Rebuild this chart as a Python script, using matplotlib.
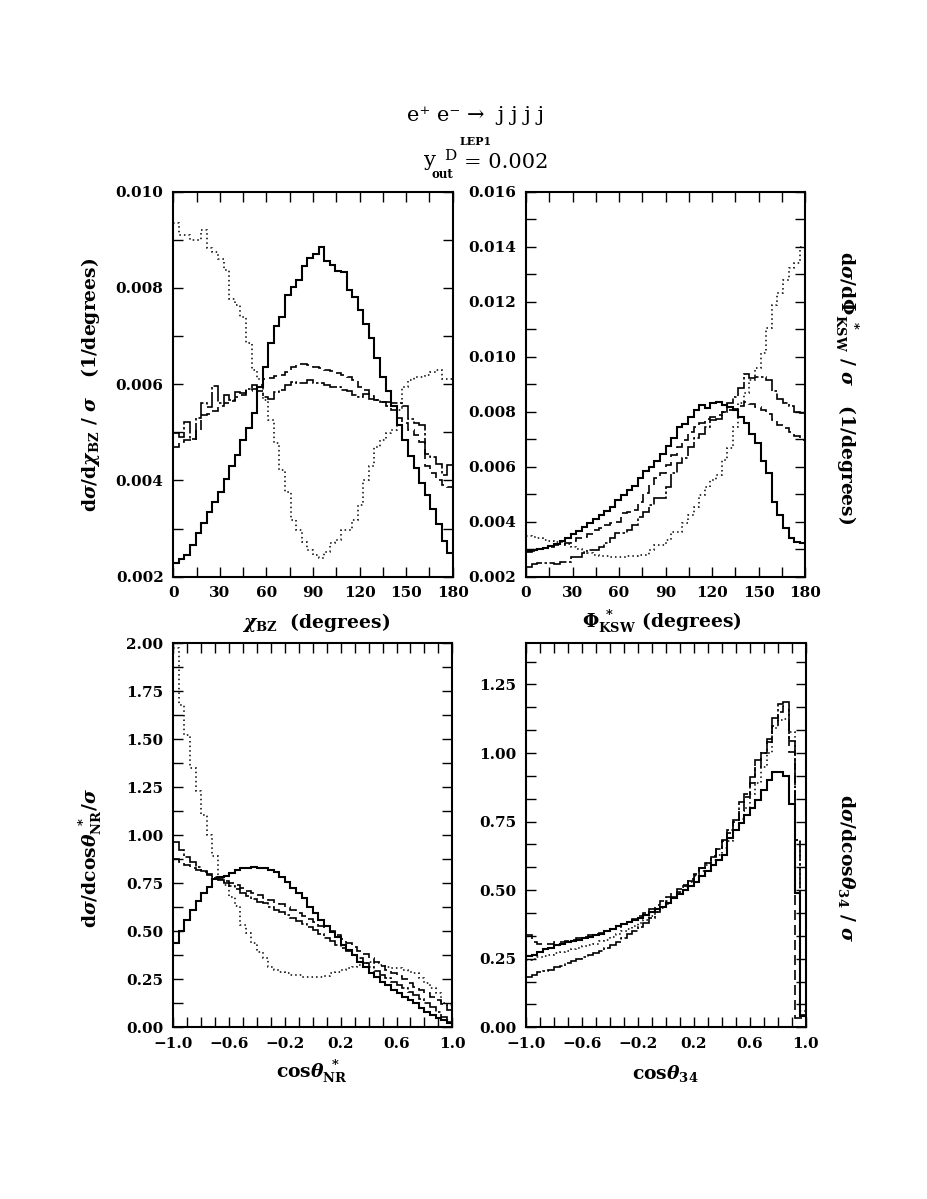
import numpy as np
import matplotlib
matplotlib.use("Agg")
import matplotlib.pyplot as plt
from matplotlib.ticker import MultipleLocator, FixedLocator, FuncFormatter

plt.rcParams['font.family'] = ['DejaVu Serif']
plt.rcParams['font.weight'] = 'bold'
plt.rcParams['mathtext.fontset'] = 'custom'
plt.rcParams['mathtext.rm'] = 'DejaVu Serif:bold'
plt.rcParams['mathtext.bf'] = 'DejaVu Serif:bold'
plt.rcParams['mathtext.it'] = 'DejaVu Serif:italic:bold'

# ---------------- data (histogram bin contents) ----------------
# Panel 1: chi_BZ, 50 bins over 0..180 degrees, values in units of 1e-3 / degree
chi_range = (0.0, 180.0)
chi_solid = [2.28, 2.36, 2.46, 2.66, 2.90, 3.11, 3.34, 3.56, 3.75, 4.02,
             4.30, 4.53, 4.84, 5.10, 5.40, 5.95, 6.35, 6.85, 7.20, 7.40,
             7.85, 8.02, 8.16, 8.45, 8.62, 8.70, 8.85, 8.55, 8.48, 8.36,
             8.34, 7.96, 7.82, 7.55, 7.25, 6.95, 6.55, 6.15, 5.85, 5.55,
             5.15, 4.85, 4.50, 4.25, 3.95, 3.70, 3.40, 3.10, 2.75, 2.50]
chi_dashed = [4.70, 4.80, 4.85, 4.85, 5.05, 5.36, 5.38, 5.45, 5.55, 5.60,
              5.65, 5.74, 5.78, 5.85, 5.90, 5.98, 6.10, 6.13, 6.16, 6.20,
              6.26, 6.35, 6.41, 6.42, 6.40, 6.36, 6.33, 6.30, 6.28, 6.24,
              6.20, 6.15, 6.09, 5.95, 5.88, 5.75, 5.67, 5.62, 5.55, 5.46,
              5.30, 5.19, 5.05, 4.95, 4.80, 4.30, 4.15, 4.00, 3.90, 3.87]
chi_dotted = [9.34, 9.10, 9.10, 9.00, 9.00, 9.20, 8.82, 8.75, 8.60, 8.37,
              7.78, 7.64, 7.40, 6.85, 6.30, 6.10, 5.68, 5.26, 4.77, 4.22,
              3.77, 3.18, 2.97, 2.73, 2.55, 2.45, 2.38, 2.52, 2.69, 2.76,
              2.97, 2.97, 3.18, 3.50, 4.00, 4.29, 4.70, 4.84, 4.98, 5.05,
              5.46, 5.95, 6.09, 6.15, 6.15, 6.20, 6.26, 6.30, 6.10, 6.10]
chi_dashdot = [4.98, 4.91, 5.22, 4.87, 5.29, 5.61, 5.53, 5.97, 5.60, 5.77,
               5.67, 5.84, 5.81, 5.91, 5.98, 5.85, 5.74, 5.70, 5.84, 5.88,
               5.98, 6.05, 6.02, 6.02, 6.09, 6.02, 6.02, 5.98, 5.95, 5.95,
               5.88, 5.85, 5.77, 5.74, 5.80, 5.70, 5.67, 5.64, 5.64, 5.60,
               5.60, 5.55, 5.27, 5.19, 5.15, 4.56, 4.49, 4.35, 4.11, 4.32]

# Panel 2: Phi*_KSW, 50 bins over 0..180 degrees, units of 1e-3 / degree
phi_range = (0.0, 180.0)
phi_solid = [2.95, 2.97, 3.00, 3.05, 3.10, 3.18, 3.30, 3.42, 3.55, 3.68,
             3.80, 3.95, 4.10, 4.25, 4.40, 4.55, 4.80, 4.97, 5.15, 5.30,
             5.60, 5.85, 6.00, 6.20, 6.45, 6.75, 7.03, 7.45, 7.55, 7.80,
             8.06, 8.24, 8.12, 8.30, 8.36, 8.24, 8.18, 8.06, 7.82, 7.60,
             7.20, 6.85, 6.20, 5.76, 4.73, 4.24, 3.76, 3.40, 3.27, 3.22]
phi_dashed = [2.90, 2.92, 3.00, 3.03, 3.08, 3.15, 3.15, 3.22, 3.30, 3.39,
              3.45, 3.55, 3.70, 3.78, 3.88, 3.95, 4.00, 4.30, 4.35, 4.42,
              4.73, 5.03, 5.35, 5.60, 5.76, 6.06, 6.42, 6.73, 6.97, 7.27,
              7.45, 7.60, 7.75, 7.82, 7.88, 8.00, 8.06, 8.10, 8.20, 8.36,
              8.28, 8.18, 8.06, 7.90, 7.70, 7.52, 7.40, 7.25, 7.10, 6.97]
phi_dotted = [3.48, 3.45, 3.39, 3.35, 3.30, 3.27, 3.25, 3.20, 3.09, 3.00,
              2.90, 2.88, 2.80, 2.75, 2.75, 2.73, 2.73, 2.73, 2.75, 2.75,
              2.78, 2.80, 2.97, 3.15, 3.15, 3.33, 3.64, 3.64, 3.94, 4.24,
              4.55, 4.97, 5.27, 5.50, 5.70, 6.24, 6.67, 7.45, 8.30, 8.67,
              9.15, 9.58, 10.12, 11.03, 11.88, 12.30, 12.79, 13.21, 13.40, 14.00]
phi_dashdot = [2.36, 2.48, 2.50, 2.50, 2.50, 2.45, 2.55, 2.55, 2.73, 2.73,
               2.85, 2.97, 2.97, 3.09, 3.21, 3.39, 3.58, 3.58, 3.70, 3.88,
               4.18, 4.36, 4.60, 4.85, 4.85, 5.27, 5.76, 6.12, 6.30, 6.73,
               7.03, 7.20, 7.45, 7.70, 7.75, 8.00, 8.30, 8.55, 8.85, 9.37,
               9.21, 9.27, 9.27, 9.15, 8.75, 8.45, 8.30, 8.20, 8.00, 7.94]

# Panel 3: cos(theta*_NR), 50 bins over -1..1
nr_range = (-1.0, 1.0)
nr_solid = [0.44, 0.50, 0.56, 0.61, 0.66, 0.70, 0.73, 0.77, 0.785, 0.79,
            0.806, 0.82, 0.828, 0.832, 0.837, 0.832, 0.828, 0.82, 0.807, 0.785,
            0.755, 0.724, 0.70, 0.672, 0.628, 0.594, 0.559, 0.528, 0.498, 0.472,
            0.43, 0.405, 0.377, 0.342, 0.316, 0.285, 0.264, 0.238, 0.22, 0.194,
            0.177, 0.16, 0.142, 0.125, 0.099, 0.082, 0.064, 0.047, 0.038, 0.02]
nr_dashed = [0.875, 0.86, 0.845, 0.83, 0.82, 0.81, 0.795, 0.78, 0.77, 0.76,
             0.75, 0.74, 0.725, 0.71, 0.70, 0.69, 0.675, 0.665, 0.65, 0.64,
             0.625, 0.61, 0.595, 0.58, 0.565, 0.55, 0.53, 0.515, 0.50, 0.48,
             0.46, 0.44, 0.42, 0.40, 0.38, 0.36, 0.34, 0.32, 0.30, 0.285,
             0.265, 0.25, 0.23, 0.21, 0.195, 0.18, 0.16, 0.14, 0.12, 0.09]
nr_dotted = [1.974, 1.68, 1.52, 1.35, 1.23, 1.106, 1.0, 0.89, 0.78, 0.74,
             0.68, 0.63, 0.533, 0.49, 0.4375, 0.394, 0.36, 0.316, 0.299, 0.29,
             0.281, 0.275, 0.27, 0.264, 0.264, 0.264, 0.262, 0.267, 0.281, 0.29,
             0.299, 0.307, 0.316, 0.325, 0.333, 0.342, 0.335, 0.325, 0.316, 0.31,
             0.307, 0.299, 0.29, 0.281, 0.255, 0.229, 0.203, 0.177, 0.125, 0.116]
nr_dashdot = [0.967, 0.924, 0.889, 0.86, 0.835, 0.815, 0.80, 0.785, 0.765, 0.75,
              0.735, 0.72, 0.70, 0.685, 0.67, 0.655, 0.645, 0.628, 0.611, 0.60,
              0.585, 0.57, 0.555, 0.54, 0.524, 0.505, 0.485, 0.467, 0.45, 0.43,
              0.411, 0.395, 0.377, 0.36, 0.337, 0.315, 0.295, 0.275, 0.255, 0.238,
              0.22, 0.203, 0.186, 0.168, 0.148, 0.128, 0.108, 0.082, 0.056, 0.03]

# Panel 4: cos(theta_34), 50 bins over -1..1
c34_range = (-1.0, 1.0)
c34_solid = [0.26, 0.265, 0.275, 0.285, 0.29, 0.30, 0.305, 0.31, 0.315, 0.32,
             0.325, 0.33, 0.335, 0.34, 0.35, 0.36, 0.37, 0.375, 0.385, 0.39,
             0.40, 0.41, 0.42, 0.43, 0.44, 0.455, 0.47, 0.485, 0.50, 0.515,
             0.53, 0.55, 0.57, 0.59, 0.61, 0.63, 0.69, 0.72, 0.745, 0.775,
             0.80, 0.83, 0.865, 0.90, 0.93, 0.93, 0.915, 0.815, 0.488, 0.04]
c34_dashed = [0.335, 0.31, 0.305, 0.305, 0.305, 0.31, 0.31, 0.315, 0.32, 0.325,
              0.33, 0.335, 0.34, 0.345, 0.35, 0.36, 0.365, 0.375, 0.385, 0.395,
              0.405, 0.415, 0.43, 0.445, 0.46, 0.475, 0.49, 0.505, 0.52, 0.54,
              0.56, 0.58, 0.60, 0.625, 0.65, 0.68, 0.71, 0.75, 0.79, 0.84,
              0.89, 0.95, 1.00, 1.04, 1.10, 1.15, 1.17, 1.005, 0.035, 0.035]
c34_dotted = [0.245, 0.25, 0.255, 0.26, 0.265, 0.27, 0.275, 0.28, 0.285, 0.29,
              0.295, 0.30, 0.305, 0.315, 0.32, 0.33, 0.34, 0.35, 0.36, 0.37,
              0.38, 0.39, 0.405, 0.42, 0.435, 0.45, 0.47, 0.49, 0.51, 0.53,
              0.55, 0.57, 0.59, 0.61, 0.63, 0.655, 0.68, 0.72, 0.76, 0.80,
              0.85, 0.89, 0.95, 1.00, 1.09, 1.12, 1.125, 1.075, 0.683, 0.06]
c34_dashdot = [0.185, 0.19, 0.20, 0.205, 0.21, 0.22, 0.225, 0.235, 0.24, 0.25,
               0.255, 0.265, 0.27, 0.28, 0.29, 0.30, 0.31, 0.325, 0.34, 0.35,
               0.365, 0.38, 0.40, 0.42, 0.44, 0.46, 0.475, 0.495, 0.515, 0.535,
               0.555, 0.58, 0.60, 0.62, 0.65, 0.683, 0.72, 0.756, 0.82, 0.85,
               0.914, 0.974, 1.00, 1.05, 1.126, 1.18, 1.187, 1.045, 0.683, 0.045]

# tick labels
deg_ticks = [0, 30, 60, 90, 120, 150, 180]
cos_ticks = [-1.0, -0.6, -0.2, 0.2, 0.6, 1.0]

# ---------------- styles ----------------
STYLES = {
    'solid':   dict(linewidth=1.5, linestyle='-'),
    'dashed':  dict(linewidth=1.2, linestyle=(0, (6, 3))),
    'dotted':  dict(linewidth=1.1, linestyle=(0, (1, 2))),
    'dashdot': dict(linewidth=1.2, linestyle=(0, (12, 1.5, 1.5, 1.5))),
}

W, H = 927, 1199
fig = plt.figure(figsize=(W / 100, H / 100), dpi=100)


def px_axes(l, t, r, b):
    return fig.add_axes([l / W, 1 - b / H, (r - l) / W, (b - t) / H])


ax1 = px_axes(173.3, 191.7, 452.7, 576.7)
ax2 = px_axes(526.0, 191.7, 805.3, 576.7)
ax3 = px_axes(173.3, 643.3, 452.3, 1027.3)
ax4 = px_axes(526.0, 643.3, 805.7, 1027.3)


def draw(ax, rng, series, scale=1.0):
    n = len(series['solid'])
    edges = np.linspace(rng[0], rng[1], n + 1)
    for key in ['dotted', 'dashdot', 'dashed', 'solid']:
        vals = np.asarray(series[key]) * scale
        ax.stairs(vals, edges, baseline=None, color='black', **STYLES[key])


draw(ax1, chi_range, dict(solid=chi_solid, dashed=chi_dashed, dotted=chi_dotted, dashdot=chi_dashdot), 1e-3)
draw(ax2, phi_range, dict(solid=phi_solid, dashed=phi_dashed, dotted=phi_dotted, dashdot=phi_dashdot), 1e-3)
draw(ax3, nr_range, dict(solid=nr_solid, dashed=nr_dashed, dotted=nr_dotted, dashdot=nr_dashdot))
draw(ax4, c34_range, dict(solid=c34_solid, dashed=c34_dashed, dotted=c34_dotted, dashdot=c34_dashdot))

minus_fmt = lambda f: FuncFormatter(lambda v, p: (f % v).replace('-', '\u2212'))

for ax in (ax1, ax2, ax3, ax4):
    for s in ax.spines.values():
        s.set_linewidth(1.5)
    ax.tick_params(which='both', direction='in', top=True, right=True,
                   length=7, width=1.0, labelsize=11, pad=7)

for ax in (ax1, ax2):
    ax.set_xlim(*chi_range)
    ax.xaxis.set_major_locator(FixedLocator(deg_ticks))
    ax.xaxis.set_minor_locator(MultipleLocator(15))
    ax.xaxis.set_major_formatter(FuncFormatter(lambda v, p: '%d' % v))
    ax.yaxis.set_minor_locator(MultipleLocator(0.001))
    ax.yaxis.set_major_locator(MultipleLocator(0.002))
    ax.yaxis.set_major_formatter(minus_fmt('%.3f'))

ax1.set_ylim(0.002, 0.010)
ax2.set_ylim(0.002, 0.016)

for ax in (ax3, ax4):
    ax.set_xlim(*nr_range)
    ax.xaxis.set_major_locator(FixedLocator(cos_ticks))
    ax.xaxis.set_minor_locator(MultipleLocator(0.1))
    ax.xaxis.set_major_formatter(minus_fmt('%.1f'))
    ax.yaxis.set_major_locator(MultipleLocator(0.25))
    ax.yaxis.set_major_formatter(minus_fmt('%.2f'))

ax3.set_ylim(0.0, 2.0)
ax3.yaxis.set_minor_locator(MultipleLocator(0.125))
ax4.set_ylim(0.0, 1.4)
ax4.yaxis.set_minor_locator(MultipleLocator(0.25 / 3))

# ---------------- text ----------------
def ftext(x, y, s, va='center', ha='center', **kw):
    fig.text(x / W, 1 - y / H, s, ha=ha, va=va, **kw)

# heading (regular weight, plain text)
ftext(476, 121, 'e\u207a e\u207b \u2192  j j j j', va='baseline', fontsize=15, fontweight='normal')
ftext(476, 145, 'LEP1', va='baseline', fontsize=8, fontweight='bold')
ftext(424, 166, 'y', ha='left', va='baseline', fontsize=15, fontweight='normal')
ftext(432, 178, 'out', ha='left', va='baseline', fontsize=8.5, fontweight='bold')
ftext(444, 160, 'D', ha='left', va='baseline', fontsize=11, fontweight='normal')
ftext(464, 168, '= 0.002', ha='left', va='baseline', fontsize=15, fontweight='normal')

lab_kw = dict(fontsize=13.5)
ftext(91, 385, r'$\mathrm{d}\sigma/\mathrm{d}\chi_{\mathrm{BZ}}\ /\ \sigma\ \ \ \mathrm{(1/degrees)}$', rotation=90, **lab_kw)
ftext(846, 388, r'$\mathrm{d}\sigma/\mathrm{d}\Phi^{\ *}_{\mathrm{KSW}}\ /\ \sigma\ \ \ \mathrm{(1/degrees)}$', rotation=-90, **lab_kw)
ftext(91, 858, r'$\mathrm{d}\sigma/\mathrm{dcos}\theta^{\ *}_{\mathrm{NR}}/\sigma$', rotation=90, **lab_kw)
ftext(846, 868, r'$\mathrm{d}\sigma/\mathrm{dcos}\theta_{\mathrm{34}}\ /\ \sigma$', rotation=-90, **lab_kw)

ftext(316, 622, r'$\chi_{\mathrm{BZ}}\ \ \mathrm{(degrees)}$', **lab_kw)
ftext(662, 622, r'$\Phi^{\ *}_{\mathrm{KSW}}\ \mathrm{(degrees)}$', **lab_kw)
ftext(312, 1072, r'$\mathrm{cos}\theta^{\ *}_{\mathrm{NR}}$', **lab_kw)
ftext(665, 1074, r'$\mathrm{cos}\theta_{\mathrm{34}}$', **lab_kw)

fig.savefig('out.png', dpi=100)
